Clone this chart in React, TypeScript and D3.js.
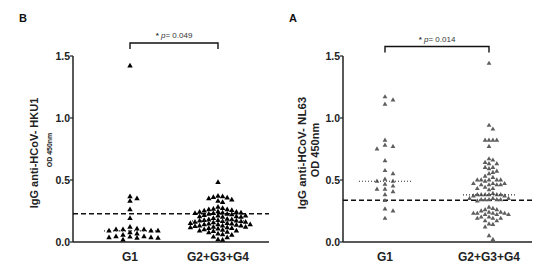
import React from "react";
import * as d3 from "d3";

// ---------- data ----------
const CATEGORIES = ["G1", "G2+G3+G4"];
const Y_TICKS = [0, 0.5, 1.0, 1.5];

const HKU1_G1 = [
  1.42, 0.365, 0.35, 0.33, 0.26, 0.19,
  0.105, 0.1, 0.12, 0.09, 0.09, 0.09, 0.1, 0.1,
  0.075, 0.065, 0.056,
  0.035, 0.035, 0.043, 0.016, 0.043, 0.03, 0.03, 0.04,
];
const HKU1_G2 = [
  0.48,
  0.37, 0.365, 0.36, 0.355, 0.35, 0.34,
  0.33, 0.32,
  0.28, 0.27, 0.265, 0.26, 0.26, 0.255, 0.25,
  0.245, 0.24, 0.24, 0.235, 0.235, 0.23, 0.23, 0.225, 0.225, 0.22,
  0.215, 0.21, 0.21, 0.205, 0.205, 0.2, 0.2,
  0.19, 0.185, 0.18, 0.18, 0.175, 0.175, 0.17, 0.17, 0.165, 0.165, 0.16, 0.16, 0.155,
  0.15, 0.15, 0.145, 0.145, 0.14, 0.14, 0.14, 0.135, 0.13, 0.13, 0.13,
  0.125, 0.12, 0.12, 0.115, 0.115, 0.11, 0.11, 0.105, 0.1,
  0.095, 0.09, 0.09, 0.085, 0.08, 0.075,
  0.065, 0.06, 0.055,
  0.04, 0.035, 0.018, 0.015,
];
const NL63_G1 = [
  1.17, 1.145, 1.11, 0.82, 0.78, 0.77, 0.75, 0.655, 0.575, 0.55, 0.505, 0.49,
  0.49, 0.465, 0.45, 0.425, 0.425, 0.405, 0.38, 0.333, 0.265, 0.25, 0.19,
];
const NL63_G2 = [
  1.44, 0.94, 0.91, 0.82, 0.82, 0.82, 0.82, 0.77, 0.67, 0.66, 0.64, 0.63, 0.63,
  0.6, 0.6, 0.59, 0.57, 0.56, 0.55, 0.53, 0.52,
  0.5, 0.5, 0.5, 0.5, 0.5, 0.49,
  0.47, 0.47, 0.47, 0.46, 0.46, 0.46, 0.46,
  0.44, 0.43, 0.43, 0.42,
  0.39, 0.38, 0.38, 0.38, 0.38, 0.38, 0.38, 0.37, 0.37,
  0.35, 0.35, 0.35, 0.34, 0.34, 0.34, 0.34, 0.34, 0.33,
  0.28, 0.27, 0.26, 0.26, 0.25,
  0.24, 0.24, 0.23, 0.23, 0.23, 0.23, 0.22, 0.22, 0.22,
  0.2, 0.2, 0.19, 0.19, 0.19,
  0.17, 0.17, 0.145, 0.14, 0.12, 0.05, 0.02,
];
const CUTOFF_HKU1 = 0.228;
const CUTOFF_NL63 = 0.336;
const P_HKU1 = "0.049";
const P_NL63 = "0.014";

// ---------- layout ----------
const W = 537;
const H = 266;
const FONT = "'Liberation Sans', Arial, Helvetica, sans-serif";

type Pt = { v: number; px: number; py: number };

function swarm(vals: number[], y: (v: number) => number, cx: number, step: number, minDy: number): Pt[] {
  const pts: Pt[] = vals.map((v) => ({ v, px: cx, py: y(v) })).sort((a, b) => a.py - b.py);
  const placed: Pt[] = [];
  for (const p of pts) {
    for (let k = 0; k < 80; k++) {
      const off = k === 0 ? 0 : (k % 2 ? 1 : -1) * Math.ceil(k / 2) * (step / 2);
      const x = cx + off;
      const hit = placed.some((q) => Math.abs(q.px - x) < step * 0.99 && Math.abs(q.py - p.py) < minDy);
      if (!hit) {
        p.px = x;
        break;
      }
    }
    placed.push(p);
  }
  return placed;
}

type PanelProps = {
  letter: string;
  letterX: number;
  axisX: number;
  axisEnd: number;
  catRange: [number, number];
  groups: number[][];
  spacing: number[];
  minDy: number;
  cutoff: number;
  pText: string;
  bracketY: number;
  color: string;
  symSize: number;
  label: string;
  labelX: number;
  labelSize: number;
  odX: number;
  odSize: number;
};

const yScale = d3.scaleLinear().domain([0, 1.5]).range([242, 56]);

function Panel(props: PanelProps) {
  const x = d3.scalePoint<string>().domain(CATEGORIES).range(props.catRange);
  const tri = d3.symbol().type(d3.symbolTriangle).size(props.symSize)() as string;
  const x0 = x(CATEGORIES[0])!;
  const x1 = x(CATEGORIES[1])!;
  const by = props.bracketY;
  return (
    <g>
      <text x={props.letterX} y={22} fontFamily={FONT} fontWeight="bold" fontSize={11} fill="#111">
        {props.letter}
      </text>
      {/* y axis */}
      <line x1={props.axisX} x2={props.axisX} y1={yScale(1.5)} y2={yScale(0)} stroke="#222" strokeWidth={1.5} />
      {Y_TICKS.map((t) => (
        <g key={t}>
          <line x1={props.axisX - 3} x2={props.axisX} y1={yScale(t)} y2={yScale(t)} stroke="#222" strokeWidth={1.2} />
          <text
            x={props.axisX - 3}
            y={yScale(t) + 4}
            textAnchor="end"
            fontFamily={FONT}
            fontWeight="bold"
            fontSize={10.5}
            fill="#222"
          >
            {t.toFixed(1)}
          </text>
        </g>
      ))}
      {/* x axis */}
      <line x1={props.axisX} x2={props.axisEnd} y1={yScale(0)} y2={yScale(0)} stroke="#222" strokeWidth={1.7} />
      {CATEGORIES.map((c) => (
        <text key={c} x={x(c)} y={261} textAnchor="middle" fontFamily={FONT} fontWeight="bold" fontSize={12} fill="#222">
          {c}
        </text>
      ))}
      {/* y label */}
      <text
        transform={`translate(${props.labelX},153) rotate(-90)`}
        textAnchor="middle"
        fontFamily={FONT}
        fontWeight="bold"
        fontSize={props.labelSize}
        fill="#222"
      >
        {props.label}
      </text>
      <text
        transform={`translate(${props.odX},150) rotate(-90)`}
        textAnchor="middle"
        fontFamily={FONT}
        fontWeight="bold"
        fontSize={props.odSize}
        fill="#222"
      >
        OD 450nm
      </text>
      {/* cutoff */}
      <line
        x1={props.axisX}
        x2={props.axisEnd}
        y1={yScale(props.cutoff)}
        y2={yScale(props.cutoff)}
        stroke="#111"
        strokeWidth={1.5}
        strokeDasharray="5,3"
      />
      {/* points */}
      {props.groups.map((vals, gi) => {
        const cx = x(CATEGORIES[gi])!;
        const pts = swarm(vals, yScale, cx, props.spacing[gi], props.minDy);
        const med = d3.median(vals)!;
        return (
          <g key={gi}>
            {pts.map((p, i) => (
              <path key={i} d={tri} transform={`translate(${p.px},${p.py})`} fill={props.color} />
            ))}
            <line
              x1={cx - 26}
              x2={cx + 26}
              y1={yScale(med)}
              y2={yScale(med)}
              stroke="#333"
              strokeWidth={1.2}
              strokeDasharray="1,2"
            />
          </g>
        );
      })}
      {/* significance bracket */}
      <path d={`M${x0},${by + 6}V${by}H${x1}V${by + 6}`} fill="none" stroke="#111" strokeWidth={1.4} />
      <text x={(x0 + x1) / 2} y={by - 5} textAnchor="middle" fontFamily={FONT} fontSize={8} fill="#333">
        <tspan fontWeight="bold">* </tspan>
        <tspan fontStyle="italic">p</tspan>
        <tspan>= {props.pText}</tspan>
      </text>
    </g>
  );
}

export default function App() {
  return (
    <div style={{ position: "absolute", left: 0, top: 0, width: W, height: H, background: "#fff" }}>
      <svg width={W} height={H} viewBox={`0 0 ${W} ${H}`} style={{ display: "block" }}>
        <rect width={W} height={H} fill="#fff" />
        <Panel
          letter="B"
          letterX={19}
          axisX={73}
          axisEnd={269}
          catRange={[130, 218]}
          groups={[HKU1_G1, HKU1_G2]}
          spacing={[7, 4.6]}
          minDy={4.2}
          cutoff={CUTOFF_HKU1}
          pText={P_HKU1}
          bracketY={43}
          color="#000"
          symSize={13}
          label="IgG anti-HCoV- HKU1"
          labelX={38}
          labelSize={11}
          odX={52}
          odSize={7}
        />
        <Panel
          letter="A"
          letterX={289}
          axisX={343}
          axisEnd={532}
          catRange={[385, 489]}
          groups={[NL63_G1, NL63_G2]}
          spacing={[8, 3.9]}
          minDy={3.8}
          cutoff={CUTOFF_NL63}
          pText={P_NL63}
          bracketY={46.5}
          color="#5e5e5e"
          symSize={10}
          label="IgG anti-HCoV- NL63"
          labelX={306}
          labelSize={11.5}
          odX={319}
          odSize={11}
        />
      </svg>
    </div>
  );
}
